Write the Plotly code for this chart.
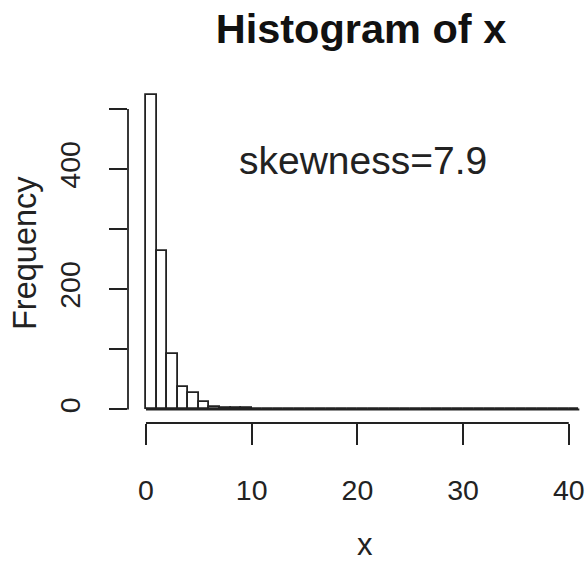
import plotly.graph_objects as go

# Histogram data (bin breaks of width 1 from 0 to 41)
breaks = list(range(0, 42))
counts = [523, 264, 92, 37, 27, 12, 4, 3, 3, 2] + [0] * 30 + [1]
x_ticks = [0, 10, 20, 30, 40]
y_ticks = [0, 100, 200, 300, 400, 500]
y_tick_labels = ["0", "", "200", "", "400", ""]
title_text = "Histogram of x"
x_label = "x"
y_label = "Frequency"
note_text = "skewness=7.9"

mids = [(breaks[i] + breaks[i + 1]) / 2 for i in range(len(counts))]
widths = [breaks[i + 1] - breaks[i] for i in range(len(counts))]

W, H = 588, 562
ML, MR, MT, MB = 128, 0, 82, 139
FONT = "Liberation Sans, Arial, sans-serif"
INK = "#222222"

fig = go.Figure()
fig.add_trace(go.Bar(
    x=mids, y=counts, width=widths,
    marker=dict(color="white", line=dict(color=INK, width=1.8)),
    showlegend=False, hoverinfo="x+y",
))

pw = W - ML - MR
ph = H - MT - MB

def px2paper_x(px):
    return (px - ML) / pw

def px2paper_y(py):
    return (H - MB - py) / ph

shapes = [
    dict(type="line", xref="x", yref="y", x0=breaks[0], x1=breaks[-1], y0=0, y1=0,
         line=dict(color=INK, width=1.8)),
    dict(type="line", xref="x", yref="paper", x0=x_ticks[0], x1=x_ticks[-1], y0=0, y1=0,
         line=dict(color=INK, width=1.8)),
    dict(type="line", xref="paper", yref="y", x0=0, x1=0, y0=y_ticks[0], y1=y_ticks[-1],
         line=dict(color=INK, width=1.8)),
]

annotations = [
    dict(text=note_text, xref="x", yref="y", x=20.5, y=415, showarrow=False,
         xanchor="center", yanchor="middle", font=dict(family=FONT, size=39, color=INK)),
    dict(text=y_label, xref="paper", yref="paper", x=px2paper_x(25), y=px2paper_y(253),
         showarrow=False, textangle=-90, xanchor="center", yanchor="middle",
         font=dict(family=FONT, size=32.5, color=INK)),
    dict(text=x_label, xref="paper", yref="paper", x=px2paper_x(365), y=px2paper_y(544),
         showarrow=False, xanchor="center", yanchor="middle",
         font=dict(family=FONT, size=31, color=INK)),
]

fig.update_layout(
    width=W, height=H,
    margin=dict(l=ML, r=MR, t=MT, b=MB, pad=0, autoexpand=False),
    paper_bgcolor="white", plot_bgcolor="white",
    bargap=0,
    title=dict(text=f"<b>{title_text}</b>", x=361 / W, xref="container", xanchor="center",
               y=1 - 28 / H, yref="container", yanchor="middle",
               font=dict(family=FONT, size=41.5, color="#111111")),
    xaxis=dict(range=[-1.70, 41.82], tickvals=x_ticks, ticktext=[str(v) for v in x_ticks],
               ticks="outside", ticklen=21, tickwidth=1.8, tickcolor=INK,
               showline=False, showgrid=False, zeroline=False, automargin=False,
               ticklabelstandoff=21,
               tickfont=dict(family=FONT, size=28.5, color=INK)),
    yaxis=dict(range=[-22.5, 545], tickvals=y_ticks, ticktext=y_tick_labels,
               ticks="outside", ticklen=18, tickwidth=1.8, tickcolor=INK,
               showline=False, showgrid=False, zeroline=False, automargin=False,
               tickangle=-90, ticklabelstandoff=18,
               tickfont=dict(family=FONT, size=28.5, color=INK)),
    shapes=shapes,
    annotations=annotations,
    font=dict(family=FONT),
)

fig.write_html(
    "out.html",
    config={"displayModeBar": False},
    post_script="document.body.style.margin='0';document.body.style.overflow='hidden';",
)
